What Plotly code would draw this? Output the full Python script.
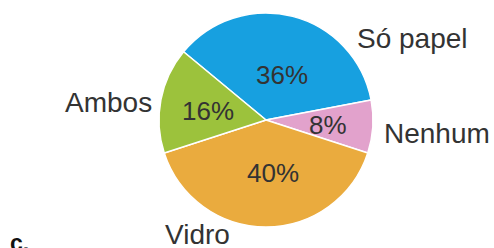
import plotly.graph_objects as go

categories = ["Só papel", "Nenhum", "Vidro", "Ambos"]
values = [36, 8, 40, 16]
colors = ["#17a0e0", "#e2a2cc", "#eaab3e", "#9cc23c"]

W, H = 494, 248
cx, cy, r = 266, 120, 107

# outside category labels and inside percentage labels (pixel positions)
label_pos = {"Só papel": (412, 39), "Nenhum": (437, 133), "Vidro": (197, 234), "Ambos": (108, 103)}
pct_pos = {"Só papel": (282, 75), "Nenhum": (328, 125), "Vidro": (273, 173), "Ambos": (208, 111)}

FONT = "Liberation Sans, Arial, sans-serif"

fig = go.Figure(go.Pie(
    labels=categories,
    values=values,
    sort=False,
    direction="clockwise",
    rotation=-50.4,
    marker=dict(colors=colors, line=dict(color="white", width=1.5)),
    textinfo="none",
    domain=dict(x=[(cx - r) / W, (cx + r) / W], y=[1 - (cy + r) / H, 1 - (cy - r) / H]),
    showlegend=False,
    hoverinfo="label+value",
))

for name, v in zip(categories, values):
    x, y = label_pos[name]
    fig.add_annotation(x=x / W, y=1 - y / H, xref="paper", yref="paper", text=name, showarrow=False,
                       xanchor="center", yanchor="middle",
                       font=dict(family=FONT, size=28, color="#333333"))
    px, py = pct_pos[name]
    fig.add_annotation(x=px / W, y=1 - py / H, xref="paper", yref="paper", text=f"{v}%", showarrow=False,
                       xanchor="center", yanchor="middle",
                       font=dict(family=FONT, size=26, color="#333333"))

fig.add_annotation(x=8 / W, y=1 - 228 / H, xref="paper", yref="paper", text="<b>c.</b>",
                   showarrow=False, xanchor="left", yanchor="top",
                   font=dict(family=FONT, size=23, color="#111111"))

fig.update_layout(width=W, height=H, margin=dict(l=0, r=0, t=0, b=0),
                  paper_bgcolor="white", plot_bgcolor="white")
fig.write_html("out.html", config={"displayModeBar": False},
               post_script="document.body.style.margin='0';document.body.style.padding='0';")
